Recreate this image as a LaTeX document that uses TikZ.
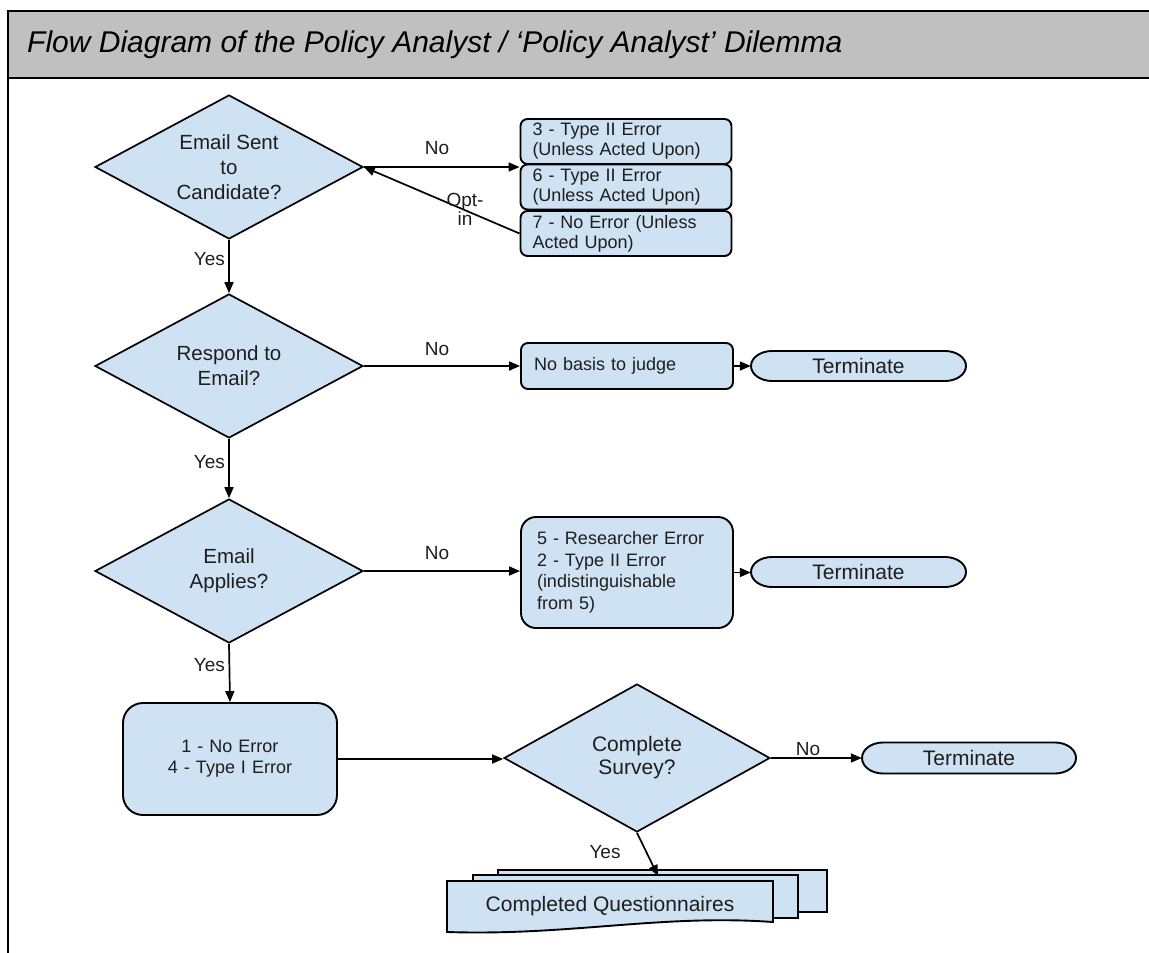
\documentclass[tikz,border=0pt]{standalone}
\usepackage{fontspec}
\setmainfont{Liberation Sans}
\usetikzlibrary{shapes.geometric,arrows.meta,calc}
\definecolor{lb}{HTML}{CFE2F3}
\definecolor{hdr}{HTML}{BFC0BF}
\definecolor{txt}{HTML}{1E1E1E}
\newcommand\fsz[2]{\fontsize{#1}{#2}\selectfont}
\newcommand\termpath[4]{%
  \draw[line width=1.9pt, fill=lb] ({#1-#3/2+21},{#2-#4/2}) -- ({#1+#3/2-21},{#2-#4/2})
    arc[start angle=-90,end angle=90,x radius=21,y radius=#4/2]
    -- ({#1-#3/2+21},{#2+#4/2})
    arc[start angle=90,end angle=270,x radius=21,y radius=#4/2] -- cycle;}
\tikzset{
  dia/.style={diamond, draw, fill=lb, line width=1.7pt, aspect=1.86,
    minimum width=268pt, minimum height=144pt, inner sep=0pt, align=center,
    text=txt, font=\fsz{20.5}{25}},
  tbox/.style={rectangle, draw, fill=lb, line width=1.9pt, rounded corners=7pt,
    minimum width=211pt, minimum height=45pt, inner xsep=12pt, inner ysep=2pt,
    text width=187pt, align=left, text=txt, font=\fsz{18}{20}},
  term/.style={draw=none, minimum width=215pt, minimum height=30pt, inner sep=0pt,
    text=txt, font=\fsz{21}{24}},
  lbl/.style={inner sep=0pt, text=txt, font=\fsz{19}{19}},
  arr/.style={line width=1.7pt, -{Triangle[length=11pt,width=9pt]}},
  docsh/.style={draw, fill=lb, line width=1.9pt}
}
\begin{document}
\begin{tikzpicture}[x=1pt,y=-1pt]
\useasboundingbox (0,0) rectangle (1149,953);
% header
\fill[hdr] (8,11) rectangle (1149,78);
\draw[line width=2.5pt] (1149,11) -- (8,11) -- (8,953);
\draw[line width=2.5pt] (8,78) -- (1149,78);
\node[anchor=west, inner sep=0pt, font=\fsz{30}{36}\itshape] (title) at (27,45)
  {Flow Diagram of the Policy Analyst / ‘Policy Analyst’ Dilemma};

% diamonds
\node[dia] (d1) at (229,167) {Email Sent\\to\\Candidate?};
\node[dia] (d2) at (229,366) {Respond to\\Email?};
\node[dia] (d3) at (229,571) {Email\\Applies?};
\node[dia, minimum width=266pt, minimum height=148pt, font=\fsz{21}{23}] (d4) at (637,758) {Complete\\Survey?};

% top right boxes
\node[tbox] (b1) at (626,141.5) {3 - Type II Error\\(Unless Acted Upon)};
\node[tbox] (b2) at (626,187) {6 - Type II Error\\(Unless Acted Upon)};
\node[tbox] (b3) at (626,233.5) {7 - No Error (Unless\\Acted Upon)};

% no basis
\node[tbox, minimum width=212pt, minimum height=46pt, inner xsep=13pt, text width=186pt] (nb) at (627,366) {No basis to judge};
% researcher error
\node[tbox, rounded corners=15pt, minimum width=212pt, minimum height=111pt, inner xsep=16pt, text width=180pt, font=\fsz{18}{21.5}] (re) at (627,572.5)
  {5 - Researcher Error\\2 - Type II Error\\(indistinguishable\\from 5)};
% no error box
\node[tbox, rounded corners=20pt, minimum width=214pt, minimum height=112pt, inner xsep=10pt, text width=194pt, align=center, font=\fsz{18}{21}] (ne) at (230,759)
  {1 - No Error\\4 - Type I Error};

% terminators
\termpath{858.5}{366}{215}{30}
\node[term] (t1) at (858.5,366) {Terminate};
\termpath{858.5}{572}{215}{30}
\node[term] (t2) at (858.5,572) {Terminate};
\termpath{969}{758}{214}{31}
\node[term, minimum width=214pt, minimum height=31pt] (t3) at (969,758) {Terminate};

% documents
\draw[docsh] (498,870) rectangle (827,912);
\draw[docsh] (473,875) rectangle (798,918);
\draw[docsh] (447,881) -- (773,881) -- (773,922) .. controls (660,914) and (570,936) .. (447,932) -- cycle;
\node[inner sep=0pt, text=txt, font=\fsz{21}{24}] (cq) at (610,906) {Completed Questionnaires};
\coordinate (yesend) at (658,876);

% connectors
\draw[arr] (d1.south) -- (d2.north);
\draw[arr] (d2.south) -- (d3.north);
\draw[arr] (d3.south) -- (ne.north);
\draw[arr] (d1.east) -- (d1.east -| b1.west);
\draw[arr] (b3.west) -- (d1.east);
\draw[arr] (d2.east) -- (d2.east -| nb.west);
\draw[arr] (nb.east) -- (nb.east -| t1.west);
\draw[arr] (d3.east) -- (d3.east -| re.west);
\draw[arr] (re.east) -- (re.east -| t2.west);
\draw[arr] (ne.east) -- (ne.east -| d4.west);
\draw[arr] (d4.east) -- (d4.east -| t3.west);
\draw[arr] (d4.south) -- (yesend);

% labels
\node[lbl, anchor=east] (y1) at (225,259) {Yes};
\node[lbl, anchor=east] (y2) at (225,462) {Yes};
\node[lbl, anchor=east] (y3) at (225,665) {Yes};
\node[lbl] (n1) at (437,148) {No};
\node[lbl] (n2) at (437,349) {No};
\node[lbl] (n3) at (437,553) {No};
\node[lbl] (n4) at (808,749) {No};
\node[lbl] (y4) at (605,852) {Yes};
\node[lbl, align=center, font=\fsz{19}{19}] (opt) at (465,209) {Opt-\\in};
\end{tikzpicture}
\end{document}
